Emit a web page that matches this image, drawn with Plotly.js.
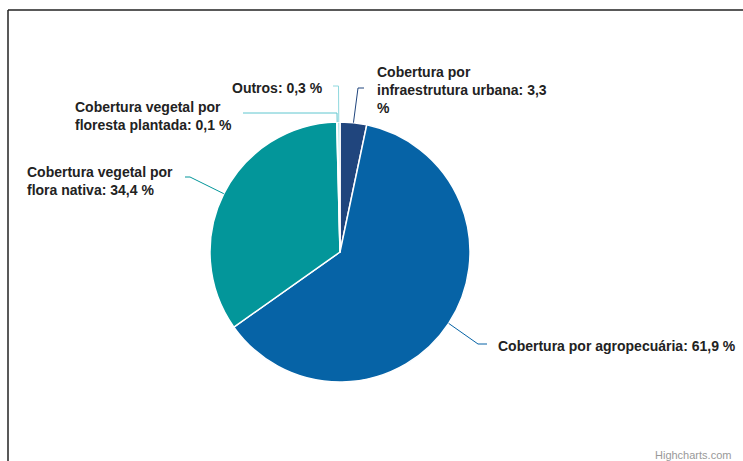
<!DOCTYPE html>
<html>
<head>
<meta charset="utf-8">
<script src="https://cdn.plot.ly/plotly-3.0.1.min.js"></script>
<style>
html,body{margin:0;padding:0;background:#fff;}
#chart{width:743px;height:461px;}
</style>
</head>
<body>
<div id="chart"></div>
<script>
// ---- data ----
const categories = [
  "Cobertura por infraestrutura urbana",
  "Cobertura por agropecuária",
  "Cobertura vegetal por flora nativa",
  "Cobertura vegetal por floresta plantada",
  "Outros"
];
const values = [3.3, 61.9, 34.4, 0.1, 0.3];
const labelTexts = [
  "Cobertura por<br>infraestrutura urbana: 3,3<br>%",
  "Cobertura por agropecuária: 61,9 %",
  "Cobertura vegetal por<br>flora nativa: 34,4 %",
  "Cobertura vegetal por<br>floresta plantada: 0,1 %",
  "Outros: 0,3 %"
];

// ---- styling / layout (pixels) ----
const colors = ["#20457d", "#0663a6", "#03969a", "#5ec6cf", "#8fd8de"];
const W = 743, H = 461;
const cx = 340, cy = 252, R = 130;
// label placement: text anchor (x,y), connector bend & end
const labelLayout = [
  {tx: 375, ty: 90,  bend: [358, 88],  end: [364, 88]},
  {tx: 496, ty: 346, bend: [478, 344], end: [487, 344]},
  {tx: 25,  ty: 181, bend: [190, 177], end: [185, 177]},
  {tx: 73,  ty: 116, bend: [337, 113], end: [243, 113]},
  {tx: 230, ty: 88,  bend: [338.5, 86], end: [333, 86]}
];

const px = x => x / W;
const py = y => 1 - y / H;

const total = values.reduce((a, b) => a + b, 0);
const shapes = [];
const annotations = [];
let cum = 0;
values.forEach((v, i) => {
  const mid = (cum + v / 2) / total * 2 * Math.PI;
  cum += v;
  const ex = cx + R * Math.sin(mid);
  const ey = cy - R * Math.cos(mid);
  const L = labelLayout[i];
  shapes.push({
    type: "path", xref: "paper", yref: "paper",
    path: `M ${px(ex)} ${py(ey)} L ${px(L.bend[0])} ${py(L.bend[1])} L ${px(L.end[0])} ${py(L.end[1])}`,
    line: {color: colors[i], width: 1}
  });
  annotations.push({
    xref: "paper", yref: "paper", x: px(L.tx), y: py(L.ty),
    xanchor: "left", yanchor: "middle", align: "left",
    text: "<b>" + labelTexts[i] + "</b>", showarrow: false,
    font: {family: "Liberation Sans, Arial, sans-serif", size: 14, color: "#222"}
  });
});

// frame lines (left and top)
shapes.push({type: "line", xref: "paper", yref: "paper", x0: px(8), y0: py(10), x1: px(8), y1: py(470), line: {color: "#222", width: 1.5}});
shapes.push({type: "line", xref: "paper", yref: "paper", x0: px(8), y0: py(10), x1: px(760), y1: py(10), line: {color: "#222", width: 1.5}});

annotations.push({
  xref: "paper", yref: "paper", x: px(733), y: py(455),
  xanchor: "right", yanchor: "middle", text: "Highcharts.com", showarrow: false,
  font: {family: "Liberation Sans, Arial, sans-serif", size: 11, color: "#999"}
});

const trace = {
  type: "pie",
  labels: categories,
  values: values,
  sort: false,
  direction: "clockwise",
  rotation: 0,
  textinfo: "none",
  hoverinfo: "none",
  marker: {colors: colors, line: {color: "#ffffff", width: 1.5}},
  domain: {x: [px(cx - R), px(cx + R)], y: [py(cy + R), py(cy - R)]},
  showlegend: false
};

Plotly.newPlot("chart", [trace], {
  width: W, height: H,
  margin: {l: 0, r: 0, t: 0, b: 0},
  paper_bgcolor: "#fff",
  showlegend: false,
  shapes: shapes,
  annotations: annotations
}, {displayModeBar: false, staticPlot: true});
</script>
</body>
</html>
